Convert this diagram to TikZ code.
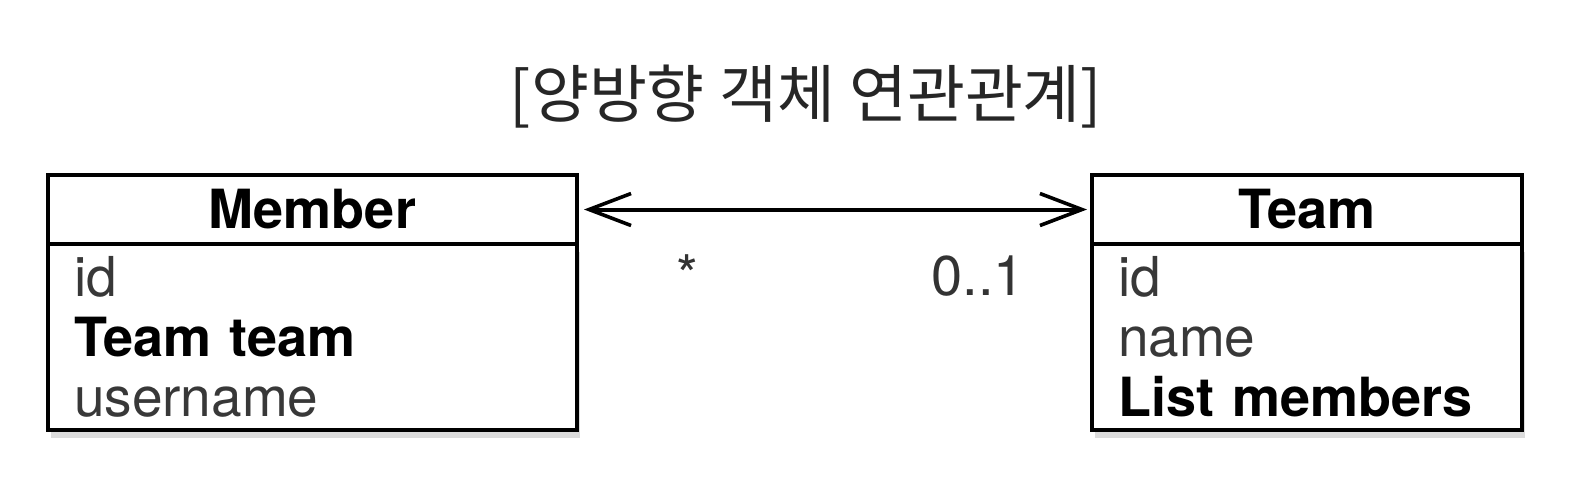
\documentclass[tikz,border=0pt]{standalone}
\usepackage{fontspec}
\setmainfont{TeX Gyre Heros}
\newfontfamily\kofont{Noto Sans CJK KR}
\usepackage{tikz}
\usetikzlibrary{arrows.meta}
\usetikzlibrary{positioning}
\usetikzlibrary{shadows}
\tikzstyle{head} = [draw,line width=2pt,fill=white,outer sep=0pt,inner sep=0pt,minimum height=34.5pt,font=\bfseries\fontsize{27}{30}\selectfont]
\tikzstyle{body} = [draw,line width=2pt,fill=white,outer sep=0pt,inner xsep=13pt,inner ysep=0pt,minimum height=93pt,align=left,text=black!78,font=\fontsize{27.5}{30}\selectfont,drop shadow={shadow xshift=1.5pt,shadow yshift=-4pt,opacity=0.28}]
\tikzstyle{mult} = [anchor=base,text=black!80,font=\fontsize{28}{30}\selectfont]
\newcommand{\attr}[1]{\textcolor{black}{\bfseries\fontsize{27}{30}\selectfont #1}}

\begin{document}
\begin{tikzpicture}[x=0.5pt,y=-0.5pt,>={Straight Barb[length=21pt,width=16pt,line width=1.8pt]}]
    \useasboundingbox (0,0) rectangle (1570,484);

% Title
    \node[text=black!85,font=\kofont\fontsize{31.5}{34}\selectfont] at (806,97) (title) {[양방향 객체 연관관계]};

% Draw classes
    \node[head,minimum width=264.5pt] at (312.5,209.5) (mhead) {Member};
    \node[body,text width=238.5pt,below=0pt of mhead] (mbody) {id\\ \attr{Team team}\\ username};
    \node[head,minimum width=215pt] at (1307,209.5) (thead) {Team};
    \node[body,text width=189pt,below=0pt of thead] (tbody) {id\\ name\\ \attr{List members}};

% Association
    \draw[<->,line width=2pt,shorten <=3.5pt,shorten >=2.5pt] (mhead) -- (thead);
    \node[mult] at (687,295) (mmult) {*};
    \node[mult] at (978,295) (tmult) {0..1};

\end{tikzpicture}
\end{document}
